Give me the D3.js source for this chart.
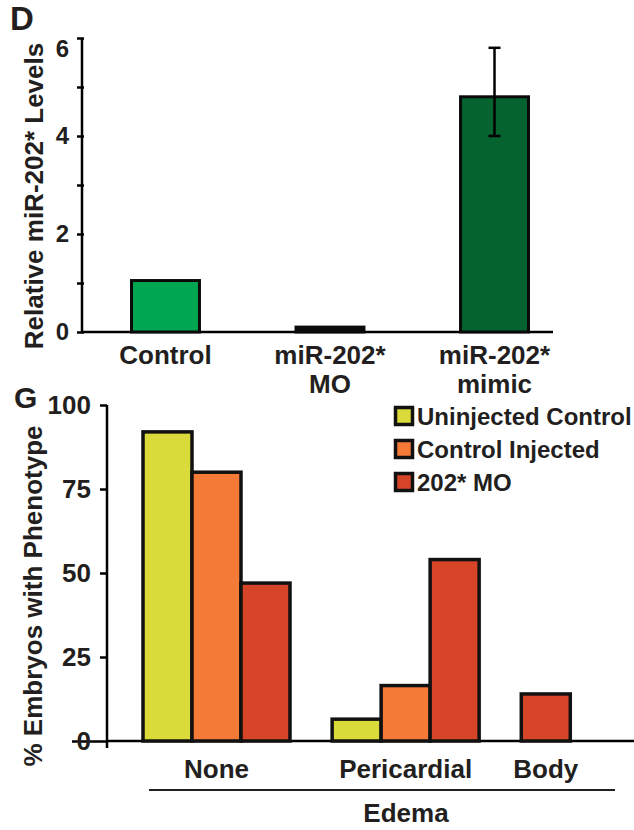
<!DOCTYPE html>
<meta charset="utf-8">
<style>
body { margin: 0; background: #fff; }
svg { font-family: "Liberation Sans", Arial, sans-serif; font-weight: bold; }
text { fill: #231f20; }
.axis path, .axis line { stroke: #000; stroke-width: 2.5; fill: none; }
.axis text { font-weight: bold; fill: #231f20; }
</style>
<body>
<script src="https://cdn.jsdelivr.net/npm/d3@7"></script>
<script>
// ---- panel D data
var dCats = [["Control"], ["miR-202*", "MO"], ["miR-202*", "mimic"]];
var dVals = [1.05, 0.1, 4.8];
var dErrLo = [null, null, 4.0];
var dErrHi = [null, null, 5.8];
var dColors = ["#00a651", "#0a0a0a", "#056330"];
var dTicks = [0, 1, 2, 3, 4, 5, 6];

// ---- panel G data
var gGroups = ["None", "Pericardial", "Body"];
var gSeries = ["Uninjected Control", "Control Injected", "202* MO"];
var gColors = ["#dada3a", "#f47a38", "#d64527"];
var gUninj = [92, 6.5, null];
var gCtrlInj = [80, 16.5, null];
var gMO = [47, 54, 14];
var gTicks = [0, 25, 50, 75, 100];

var svg = d3.select("body").append("svg")
    .attr("width", 634)
    .attr("height", 830);

// ======================= panel D
var dx = d3.scaleBand().domain(d3.range(dCats.length)).range([82, 578]).paddingInner(0.587).paddingOuter(0.301);
var dy = d3.scaleLinear().domain([0, 6]).range([332, 38]);

svg.append("text").attr("x", 10).attr("y", 30)
    .style("font-size", "33px").text("D");

svg.append("g").attr("class", "axis")
    .attr("transform", "translate(82,0)")
    .call(d3.axisLeft(dy).tickValues(dTicks).tickSize(6)
      .tickFormat(function(d) { return d % 2 === 0 ? d : ""; }))
    .call(function(g) {
      g.select(".domain").attr("d", "M0," + dy(6) + "V" + dy(0));
      g.selectAll(".tick line").attr("x1", 2).attr("x2", -5);
      g.selectAll(".tick text").attr("x", -13).style("font-size", "24px");
      g.selectAll(".tick text").filter(function(d) { return d === 6; }).attr("dy", "0.75em");
    });

svg.append("line")
    .attr("x1", 82).attr("x2", 553)
    .attr("y1", dy(0)).attr("y2", dy(0))
    .attr("stroke", "#000").attr("stroke-width", 2.5);

svg.selectAll(".dbar").data(dVals).enter().append("rect")
    .attr("class", "dbar")
    .attr("x", function(d, i) { return dx(i); })
    .attr("width", dx.bandwidth())
    .attr("y", function(d) { return dy(d); })
    .attr("height", function(d) { return dy(0) - dy(d); })
    .attr("fill", function(d, i) { return dColors[i]; })
    .attr("stroke", "#0a0a0a").attr("stroke-width", 3);

dErrHi.forEach(function(hi, i) {
  if (hi == null) return;
  var cx = dx(i) + dx.bandwidth() / 2;
  var e = svg.append("g").attr("stroke", "#000").attr("stroke-width", 2.5);
  e.append("line").attr("x1", cx).attr("x2", cx).attr("y1", dy(hi)).attr("y2", dy(dErrLo[i]));
  e.append("line").attr("x1", cx - 6).attr("x2", cx + 6).attr("y1", dy(hi)).attr("y2", dy(hi));
  e.append("line").attr("x1", cx - 6).attr("x2", cx + 6).attr("y1", dy(dErrLo[i])).attr("y2", dy(dErrLo[i]));
});

dCats.forEach(function(lines, i) {
  var t = svg.append("text")
      .attr("x", dx(i) + dx.bandwidth() / 2)
      .attr("y", 364)
      .attr("text-anchor", "middle")
      .style("font-size", "26px");
  lines.forEach(function(l, k) {
    t.append("tspan").attr("x", dx(i) + dx.bandwidth() / 2)
      .attr("dy", k === 0 ? 0 : 29).text(l);
  });
});

svg.append("text")
    .attr("transform", "translate(43," + 196 + ") rotate(-90)")
    .attr("text-anchor", "middle")
    .style("font-size", "26px")
    .text("Relative miR-202* Levels");

// ======================= panel G
var gy = d3.scaleLinear().domain([0, 100]).range([741, 405]);

// lay bars out contiguously per group with a gap between groups
var gData = [gUninj, gCtrlInj, gMO];
var bars = [], groupSpan = [], slot = 0, gap = 0.86;
gGroups.forEach(function(g, gi) {
  var start = slot;
  gSeries.forEach(function(s, si) {
    var v = gData[si][gi];
    if (v == null) return;
    bars.push({ group: gi, series: si, value: v, slot: slot });
    slot += 1;
  });
  groupSpan.push([start, slot]);
  slot += gap;
});
var gx = d3.scaleLinear().domain([0, 1]).range([143, 192]);

svg.append("text").attr("x", 14).attr("y", 408)
    .style("font-size", "30px").text("G");

svg.append("g").attr("class", "axis")
    .attr("transform", "translate(107,0)")
    .call(d3.axisLeft(gy).tickValues(gTicks).tickSize(7))
    .call(function(g) {
      g.select(".domain").attr("d", "M0," + gy(100) + "V" + (gy(0) + 7));
      g.selectAll(".tick text").attr("x", -16).style("font-size", "26px");
      g.selectAll(".tick line").filter(function(d) { return d === 0; }).attr("x2", -35);
    });

svg.append("line")
    .attr("x1", 107).attr("x2", 634)
    .attr("y1", gy(0)).attr("y2", gy(0))
    .attr("stroke", "#000").attr("stroke-width", 2.5);

svg.selectAll(".gbar").data(bars).enter().append("rect")
    .attr("class", "gbar")
    .attr("x", function(d) { return gx(d.slot); })
    .attr("width", gx(1) - gx(0))
    .attr("y", function(d) { return gy(d.value); })
    .attr("height", function(d) { return gy(0) - gy(d.value); })
    .attr("fill", function(d) { return gColors[d.series]; })
    .attr("stroke", "#111").attr("stroke-width", 3.5);

gGroups.forEach(function(g, gi) {
  svg.append("text")
      .attr("x", (gx(groupSpan[gi][0]) + gx(groupSpan[gi][1])) / 2)
      .attr("y", 778)
      .attr("text-anchor", "middle")
      .style("font-size", "26px")
      .text(g);
});

svg.append("line")
    .attr("x1", 149).attr("x2", 615)
    .attr("y1", 790).attr("y2", 790)
    .attr("stroke", "#231f20").attr("stroke-width", 2);

svg.append("text")
    .attr("x", 406).attr("y", 822)
    .attr("text-anchor", "middle")
    .style("font-size", "26px")
    .text("Edema");

svg.append("text")
    .attr("transform", "translate(42," + 596 + ") rotate(-90)")
    .attr("text-anchor", "middle")
    .style("font-size", "26px")
    .text("% Embryos with Phenotype");

// legend
var leg = svg.append("g").attr("transform", "translate(394,406)");
gSeries.forEach(function(s, i) {
  var r = leg.append("g").attr("transform", "translate(0," + i * 33 + ")");
  r.append("rect").attr("x", 1.5).attr("y", 1.5).attr("width", 17).attr("height", 17)
    .attr("fill", gColors[i]).attr("stroke", "#111").attr("stroke-width", 3.5);
  r.append("text").attr("x", 23).attr("y", 19)
    .style("font-size", "24px").text(s);
});
</script>
</body>
